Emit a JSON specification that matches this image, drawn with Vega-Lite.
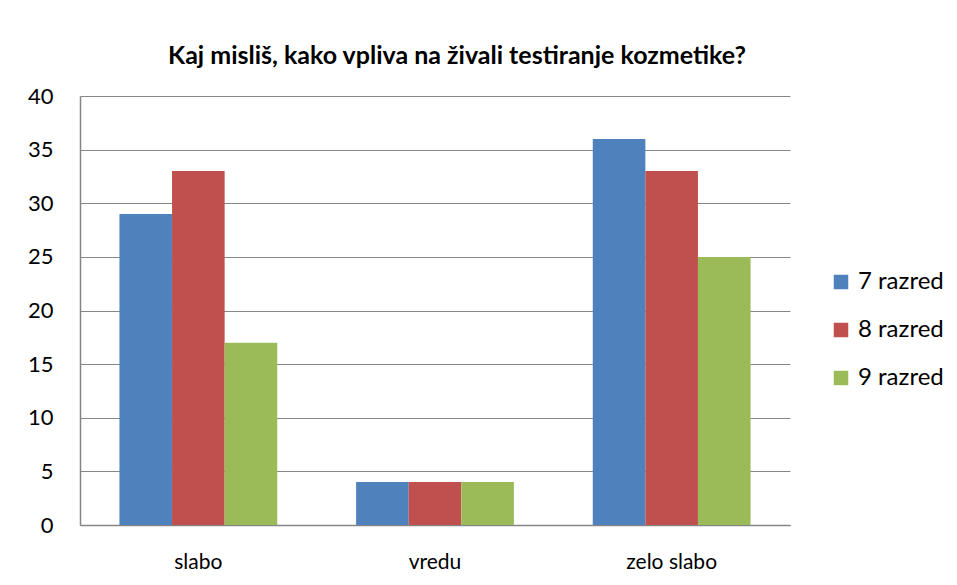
{
  "$schema": "https://vega.github.io/schema/vega-lite/v6.json",
  "autosize": "none",
  "width": 710,
  "height": 429,
  "padding": {"left": 80, "top": 96, "right": 167, "bottom": 60},
  "background": "white",
  "title": {
    "text": "Kaj misliš, kako vpliva na živali testiranje kozmetike?",
    "font": "Lato",
    "fontSize": 25,
    "fontWeight": "bold",
    "color": "#000000",
    "anchor": "middle",
    "dx": 22,
    "offset": 16
  },
  "data": {
    "values": [
      {"kategorija": "slabo", "razred": "7 razred", "vrednost": 29},
      {"kategorija": "slabo", "razred": "8 razred", "vrednost": 33},
      {"kategorija": "slabo", "razred": "9 razred", "vrednost": 17},
      {"kategorija": "vredu", "razred": "7 razred", "vrednost": 4},
      {"kategorija": "vredu", "razred": "8 razred", "vrednost": 4},
      {"kategorija": "vredu", "razred": "9 razred", "vrednost": 4},
      {"kategorija": "zelo slabo", "razred": "7 razred", "vrednost": 36},
      {"kategorija": "zelo slabo", "razred": "8 razred", "vrednost": 33},
      {"kategorija": "zelo slabo", "razred": "9 razred", "vrednost": 25}
    ]
  },
  "mark": {"type": "bar"},
  "encoding": {
    "x": {
      "field": "kategorija",
      "type": "nominal",
      "sort": ["slabo", "vredu", "zelo slabo"],
      "scale": {"paddingInner": 0.3333, "paddingOuter": 0.1667},
      "axis": {
        "title": null,
        "labelAngle": 0,
        "labelFont": "Lato",
        "labelFontSize": 21,
        "labelColor": "#000000",
        "labelPadding": 26,
        "ticks": false,
        "domainColor": "#868686",
        "domainWidth": 1.5
      }
    },
    "xOffset": {"field": "razred", "type": "nominal"},
    "y": {
      "field": "vrednost",
      "type": "quantitative",
      "scale": {"domain": [0, 40], "nice": false},
      "axis": {
        "title": null,
        "values": [0, 5, 10, 15, 20, 25, 30, 35, 40],
        "labelFont": "Lato",
        "labelFontSize": 22,
        "labelColor": "#000000",
        "labelPadding": 27,
        "ticks": false,
        "grid": true,
        "gridColor": "#868686",
        "gridWidth": 1,
        "domainColor": "#868686",
        "domainWidth": 1.5
      }
    },
    "color": {
      "field": "razred",
      "type": "nominal",
      "scale": {
        "domain": ["7 razred", "8 razred", "9 razred"],
        "range": ["#4F81BD", "#C0504D", "#9BBB59"]
      },
      "legend": {
        "title": null,
        "orient": "none",
        "legendX": 749,
        "legendY": 174,
        "symbolType": "square",
        "symbolSize": 210,
        "symbolStrokeWidth": 0,
        "labelFont": "Lato",
        "labelFontSize": 24,
        "labelColor": "#000000",
        "labelOffset": 5,
        "rowPadding": 24
      }
    }
  },
  "config": {
    "view": {"stroke": null}
  }
}
